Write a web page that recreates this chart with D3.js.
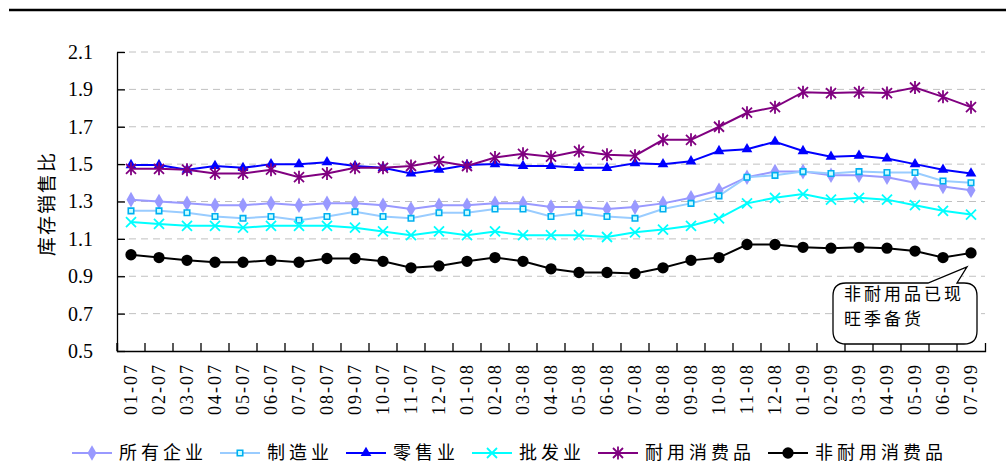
<!DOCTYPE html>
<html>
<head>
<meta charset="utf-8">
<script src="https://cdn.jsdelivr.net/npm/d3@7"></script>
<style>
  body { margin: 0; background: #fff; }
  .chart text { font-family: "Liberation Serif", "Noto Sans CJK SC", serif; fill: #000; }
  .cjk { font-family: "Noto Sans CJK SC", sans-serif !important; }
</style>
</head>
<body>
<div class="chart"></div>
<script>
const months = ['01-07', '02-07', '03-07', '04-07', '05-07', '06-07', '07-07', '08-07', '09-07', '10-07', '11-07', '12-07',
  '01-08', '02-08', '03-08', '04-08', '05-08', '06-08', '07-08', '08-08', '09-08', '10-08', '11-08', '12-08',
  '01-09', '02-09', '03-09', '04-09', '05-09', '06-09', '07-09'];
const yTicks = [0.5, 0.7, 0.9, 1.1, 1.3, 1.5, 1.7, 1.9, 2.1];

const allEnt = [1.31, 1.30, 1.29, 1.28, 1.28, 1.29, 1.28, 1.29, 1.29, 1.28, 1.26, 1.28, 1.28, 1.29, 1.29, 1.27,
  1.27, 1.26, 1.27, 1.29, 1.32, 1.36, 1.43, 1.46, 1.46, 1.44, 1.44, 1.43, 1.40, 1.38, 1.36];
const manuf = [1.25, 1.25, 1.24, 1.22, 1.21, 1.22, 1.20, 1.22, 1.245, 1.22, 1.21, 1.24, 1.24, 1.26, 1.26, 1.22,
  1.24, 1.22, 1.21, 1.26, 1.29, 1.33, 1.43, 1.44, 1.46, 1.45, 1.46, 1.455, 1.455, 1.41, 1.40];
const retail = [1.495, 1.495, 1.47, 1.49, 1.48, 1.50, 1.50, 1.51, 1.49, 1.48, 1.45, 1.47, 1.495, 1.50, 1.49, 1.49,
  1.48, 1.48, 1.505, 1.50, 1.515, 1.57, 1.58, 1.62, 1.57, 1.54, 1.545, 1.53, 1.50, 1.47, 1.45];
const wholesale = [1.19, 1.18, 1.17, 1.17, 1.16, 1.17, 1.17, 1.17, 1.16, 1.14, 1.12, 1.14, 1.12, 1.14, 1.12, 1.12,
  1.12, 1.11, 1.135, 1.15, 1.17, 1.21, 1.29, 1.32, 1.34, 1.31, 1.32, 1.31, 1.28, 1.25, 1.23];
const durable = [1.475, 1.475, 1.47, 1.45, 1.45, 1.47, 1.43, 1.45, 1.48, 1.48, 1.49, 1.515, 1.49, 1.535, 1.555, 1.54,
  1.57, 1.55, 1.545, 1.63, 1.63, 1.70, 1.775, 1.805, 1.885, 1.88, 1.885, 1.88, 1.91, 1.86, 1.805];
const nonDurable = [1.015, 1.00, 0.985, 0.975, 0.975, 0.985, 0.975, 0.995, 0.995, 0.98, 0.945, 0.955, 0.98, 1.00, 0.98, 0.94,
  0.92, 0.92, 0.915, 0.945, 0.985, 1.00, 1.07, 1.07, 1.055, 1.05, 1.055, 1.05, 1.035, 1.00, 1.025];

const series = [
  { name: '所有企业', values: allEnt, color: '#9999ff', marker: 'diamond', mColor: '#9999ff' },
  { name: '制造业', values: manuf, color: '#99ccff', marker: 'square', mColor: '#00b0f0' },
  { name: '零售业', values: retail, color: '#0000ff', marker: 'triangle', mColor: '#0000ff' },
  { name: '批发业', values: wholesale, color: '#00ffff', marker: 'x', mColor: '#00ffff' },
  { name: '耐用消费品', values: durable, color: '#800080', marker: 'star', mColor: '#800080' },
  { name: '非耐用消费品', values: nonDurable, color: '#000000', marker: 'circle', mColor: '#000000' }
];

const w = 1006;
const h = 471;
const padding = { top: 52, right: 21, bottom: 120, left: 117 };

const xScale = d3.scaleBand()
  .domain(months)
  .range([padding.left, w - padding.right]);
const yScale = d3.scaleLinear()
  .domain([0.5, 2.1])
  .range([h - padding.bottom, padding.top]);
const xPos = (d) => xScale(d) + xScale.bandwidth() / 2;

const svg = d3.select('.chart')
  .append('svg')
  .attr('width', w)
  .attr('height', h);

// top rule
svg.append('line')
  .attr('x1', 9).attr('x2', w).attr('y1', 10).attr('y2', 10)
  .attr('stroke', '#000').attr('stroke-width', 2.5);

// grid
svg.append('g')
  .selectAll('line')
  .data(yTicks.filter((d) => d > 0.5))
  .join('line')
  .attr('x1', padding.left).attr('x2', w - padding.right)
  .attr('y1', (d) => yScale(d)).attr('y2', (d) => yScale(d))
  .attr('stroke', '#c0c0c0').attr('stroke-width', 1)
  .attr('stroke-dasharray', '7,5');

// y axis
const yAxis = svg.append('g')
  .attr('transform', `translate(${padding.left}, 0)`)
  .call(d3.axisLeft(yScale).tickValues(yTicks).tickFormat(d3.format('.1f'))
    .tickSizeInner(-8).tickSizeOuter(0).tickPadding(24));
yAxis.selectAll('text').style('font-size', '20px');
yAxis.selectAll('path, line').attr('stroke', '#000').attr('stroke-width', 1.3);

// x axis
const xAxis = svg.append('g')
  .attr('transform', `translate(0, ${h - padding.bottom})`)
  .call(d3.axisBottom(xScale).tickSizeInner(-8).tickSizeOuter(-8).tickPadding(12));
xAxis.selectAll('.tick line')
  .attr('x1', -xScale.bandwidth() / 2).attr('x2', -xScale.bandwidth() / 2);
xAxis.selectAll('path, line').attr('stroke', '#000').attr('stroke-width', 1.3);
xAxis.selectAll('text')
  .attr('transform', 'rotate(-90)')
  .attr('text-anchor', 'end')
  .attr('x', -12).attr('y', 0).attr('dy', '0.35em')
  .style('font-size', '18px')
  .style('letter-spacing', '2px');

// y title
svg.append('text')
  .attr('class', 'cjk')
  .attr('transform', `translate(47, ${yScale(1.3) + 2}) rotate(-90)`)
  .attr('text-anchor', 'middle')
  .attr('dy', '0.35em')
  .style('font-size', '19px')
  .style('letter-spacing', '2px')
  .text('库存销售比');

function markerPath(type) {
  switch (type) {
    case 'diamond': return d3.symbol(d3.symbolDiamond, 70)();
    case 'square': return d3.symbol(d3.symbolSquare, 30)();
    case 'triangle': return d3.symbol(d3.symbolTriangle, 50)();
    case 'circle': return d3.symbol(d3.symbolCircle, 100)();
    case 'x': return 'M-5,-5L5,5M-5,5L5,-5';
    case 'star': return 'M-5,-5L5,5M-5,5L5,-5M0,-6.5L0,6.5';
  }
}

function drawMarker(g, s) {
  const p = g.append('path').attr('d', markerPath(s.marker));
  if (s.marker === 'square') {
    p.attr('fill', '#ccffff').attr('stroke', s.mColor).attr('stroke-width', 1.6);
  } else if (s.marker === 'x' || s.marker === 'star') {
    p.attr('fill', 'none').attr('stroke', s.mColor).attr('stroke-width', 1.8);
  } else {
    p.attr('fill', s.mColor).attr('stroke', 'none');
  }
}

const line = d3.line()
  .x((d, i) => xPos(months[i]))
  .y((d) => yScale(d));

series.forEach((s) => {
  svg.append('path')
    .datum(s.values)
    .attr('fill', 'none')
    .attr('stroke', s.color)
    .attr('stroke-width', 2)
    .attr('d', line);
  s.values.forEach((v, i) => {
    const g = svg.append('g').attr('transform', `translate(${xPos(months[i])}, ${yScale(v)})`);
    drawMarker(g, s);
  });
});

// callout
const tipX = xPos(months[months.length - 1]) - 4;
const tipY = yScale(nonDurable[nonDurable.length - 1]) + 14;
const bx0 = 833, bx1 = 977, by0 = 283, by1 = 344, r = 13;
svg.append('path')
  .attr('d', `M${bx0 + r},${by0} L928,${by0} L${tipX},${tipY} L957,${by0} L${bx1 - r},${by0}
    Q${bx1},${by0} ${bx1},${by0 + r} L${bx1},${by1 - r} Q${bx1},${by1} ${bx1 - r},${by1}
    L${bx0 + r},${by1} Q${bx0},${by1} ${bx0},${by1 - r} L${bx0},${by0 + r} Q${bx0},${by0} ${bx0 + r},${by0} Z`)
  .attr('fill', '#fff')
  .attr('stroke', '#000')
  .attr('stroke-width', 1.3);
const note = svg.append('text')
  .attr('class', 'cjk')
  .style('font-size', '17px')
  .style('letter-spacing', '3px');
note.append('tspan').attr('x', 844).attr('y', 300).text('非耐用品已现');
note.append('tspan').attr('x', 844).attr('y', 325).text('旺季备货');

// legend
const legend = svg.append('g').attr('transform', 'translate(0, 453)');
let lx = 72;
series.forEach((s) => {
  const g = legend.append('g').attr('transform', `translate(${lx}, 0)`);
  g.append('line').attr('x1', 0).attr('x2', 40).attr('stroke', s.color).attr('stroke-width', 2);
  const m = g.append('g').attr('transform', 'translate(20, 0)');
  drawMarker(m, s);
  const t = g.append('text')
    .attr('class', 'cjk')
    .attr('x', 47)
    .attr('dy', '0.35em')
    .style('font-size', '18px')
    .style('letter-spacing', '4px')
    .text(s.name);
  lx += 47 + t.node().getComputedTextLength() + 13;
});
</script>
</body>
</html>
